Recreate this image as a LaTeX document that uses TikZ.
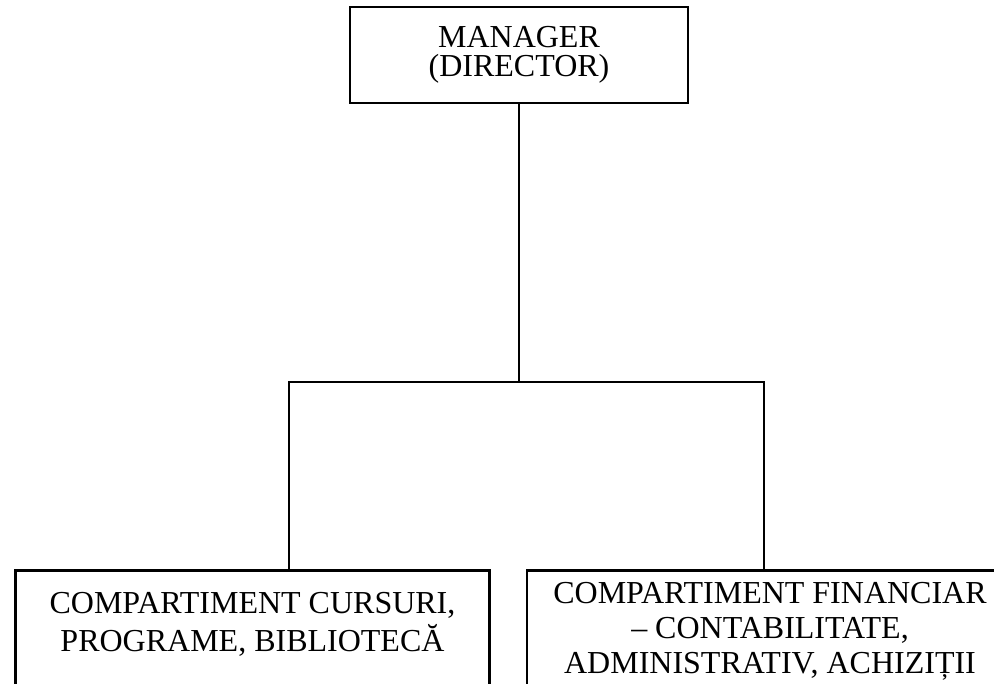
\documentclass[tikz,border=0pt]{standalone}
\usepackage{fontspec}
\setmainfont{Liberation Serif}
\usetikzlibrary{calc}

\tikzset{unit/.style={draw, line width=2.2pt, align=center, inner xsep=0pt}}

\begin{document}
\begin{tikzpicture}[x=0.75pt,y=-0.75pt,line width=2.2pt]
\useasboundingbox (0,0) rectangle (994,683);
\clip (0,0) rectangle (994,683);
\node[unit, minimum width=253.5pt, minimum height=72pt, font=\fontsize{24}{22}\selectfont] (manager) at (519,55) {MANAGER\\(DIRECTOR)};
\node[unit, anchor=north, minimum width=356pt, inner ysep=16pt, text depth=80pt, font=\fontsize{24}{28.5}\selectfont] (cursuri) at (252.5,569) {COMPARTIMENT CURSURI,\\PROGRAME, BIBLIOTECĂ};
\node[unit, anchor=north, minimum width=364.5pt, inner ysep=9pt, text depth=60pt, font=\fontsize{24}{26}\selectfont] (financiar) at (770,569) {COMPARTIMENT FINANCIAR\\– CONTABILITATE,\\ADMINISTRATIV, ACHIZIȚII};
\coordinate (jl) at (289,382);
\coordinate (jr) at (764,382);
\draw (manager.south) -- (manager.south |- jl);
\draw (cursuri.north -| jl) -- (jl) -- (jr) -- (financiar.north -| jr);
\end{tikzpicture}
\end{document}
